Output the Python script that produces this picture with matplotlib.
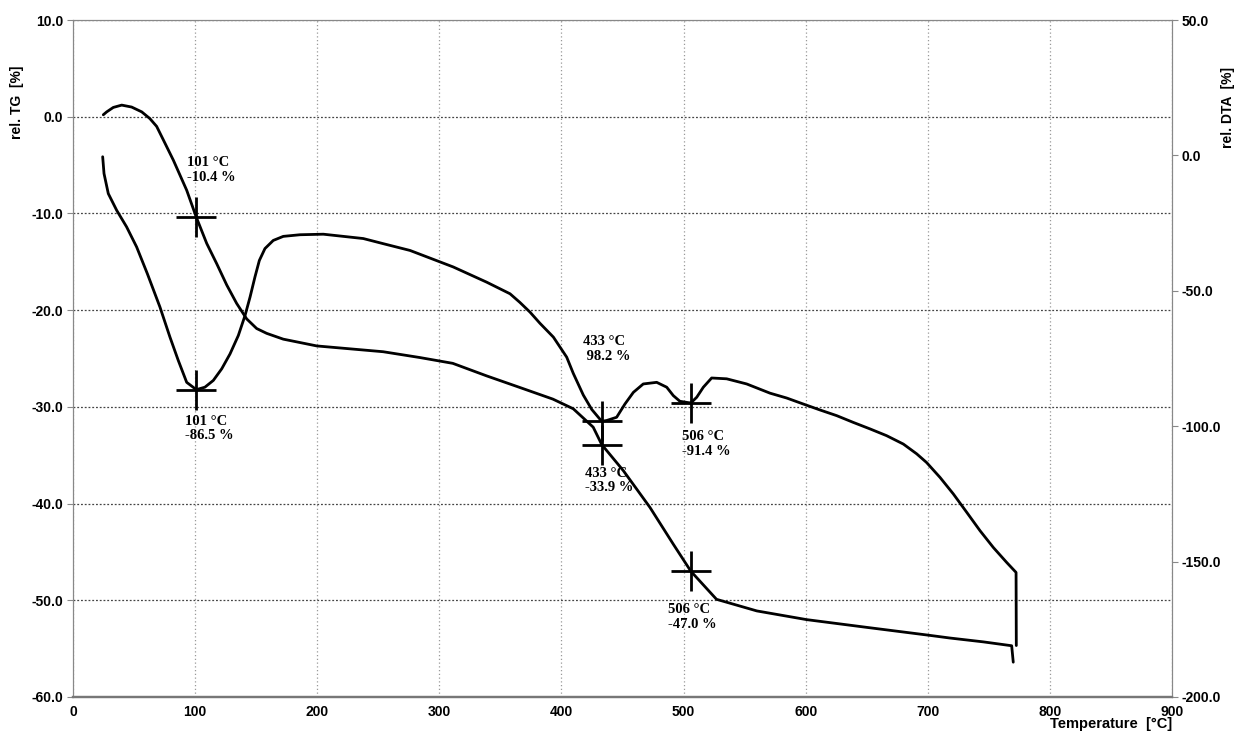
import matplotlib
matplotlib.use("Agg")

import matplotlib.pyplot as plt

# --- TG curve (left axis, rel. TG [%]) ---
tg_temp = [24.8, 27.6, 33.0, 39.9, 48.0, 56.3, 63.0, 68.5, 74.0, 82.2, 93.1,
           101.0, 109.5, 117.7, 125.9, 134.0, 142.2, 150.4, 158.6, 172.2, 199.6,
           254.0, 284.0, 311.0, 338.8, 366.0, 393.0, 409.7, 426.0, 433.0, 450.7,
           472.5, 491.6, 506.0, 527.0, 560.0, 600.8, 650.0, 700.0, 718.0, 745.5,
           768.7, 770.0]
tg = [0.2, 0.5, 0.96, 1.2, 1.0, 0.5, -0.2, -1.0, -2.4, -4.5, -7.6,
      -10.4, -13.1, -15.2, -17.4, -19.3, -20.9, -21.9, -22.4, -23.0, -23.7,
      -24.3, -24.9, -25.5, -26.8, -28.0, -29.2, -30.2, -32.1, -33.9, -36.6,
      -40.4, -44.2, -47.0, -49.9, -51.1, -52.0, -52.8, -53.6, -53.9, -54.3,
      -54.7, -56.4]

# --- DTA curve (right axis, rel. DTA [%]) ---
dta_temp = [24.3, 25.4, 28.9, 35.8, 43.9, 52.1, 60.9, 71.2, 79.4, 86.2, 93.1,
            101.0, 108.0, 114.9, 121.8, 128.6, 135.4, 140.9, 145.0, 149.0, 152.6,
            157.2, 164.0, 172.2, 185.9, 205.0, 237.7, 254.1, 276.0, 311.4, 338.7,
            357.9, 366.0, 374.3, 382.4, 393.4, 404.3, 409.7, 417.9, 424.8, 430.2,
            433.0, 437.0, 445.2, 452.0, 458.9, 467.0, 478.0, 486.2, 491.6, 497.0,
            503.9, 506.0, 510.8, 516.2, 523.0, 535.3, 551.7, 570.8, 584.5, 598.0,
            611.7, 625.4, 639.0, 652.7, 666.3, 680.0, 690.9, 699.0, 710.0, 720.9,
            731.9, 742.8, 753.7, 764.6, 772.3, 772.5]
dta = [-0.5, -6.7, -14.1, -20.3, -26.4, -33.8, -43.7, -56.0, -67.1, -75.7, -83.8,
       -86.5, -85.6, -83.1, -78.8, -73.3, -66.5, -59.1, -52.3, -44.9, -38.8,
       -34.4, -31.4, -29.9, -29.3, -29.1, -30.7, -32.6, -35.1, -41.2, -46.8,
       -51.1, -54.3, -57.9, -62.0, -67.1, -74.5, -80.5, -88.5, -93.8, -96.7,
       -98.2, -97.9, -96.7, -91.8, -87.5, -84.4, -83.8, -85.6, -88.7, -90.8,
       -91.3, -91.4, -89.3, -85.6, -82.2, -82.5, -84.4, -87.8, -89.6, -91.8,
       -94.0, -96.1, -98.6, -101.0, -103.5, -106.6, -110.2, -113.4, -118.9, -125.0,
       -131.8, -138.6, -144.8, -150.3, -154.0, -181.0]

# evaluated points: (temperature, value, text label)
tg_events = [(101, -10.4, "101 °C\n-10.4 %"),
             (433, -33.9, "433 °C\n-33.9 %"),
             (506, -47.0, "506 °C\n-47.0 %")]
dta_events = [(101, -86.5, "101 °C\n-86.5 %"),
              (433, -98.2, "433 °C\n 98.2 %"),
              (506, -91.4, "506 °C\n-91.4 %")]

tg_ticks = [10, 0, -10, -20, -30, -40, -50, -60]
dta_ticks = [50, 0, -50, -100, -150, -200]
temp_ticks = [0, 100, 200, 300, 400, 500, 600, 700, 800, 900]

# label offsets in points, relative to each marked point
tg_offsets = [(-7, 34), (-12, -26), (-16.5, -33)]
dta_offsets = [(-8, -28), (-13.5, 52), (-6.5, -29.5)]

W, H = 1243, 735
fig = plt.figure(figsize=(W / 100, H / 100), dpi=100)
fig.patch.set_facecolor("white")

left, right, top, bottom = 73, 1172, 20, 697
ax = fig.add_axes([left / W, 1 - bottom / H, (right - left) / W, (bottom - top) / H])
ax2 = ax.twinx()

tick_font = dict(family="Liberation Sans", weight="bold", size=10)
ann_font = dict(family="Liberation Serif", weight="bold", size=10.5)

ax.set_xlim(0, 900)
ax.set_ylim(-60, 10)
ax2.set_ylim(-200, 50)

ax.set_xticks(temp_ticks)
ax.set_yticks(tg_ticks)
ax2.set_yticks(dta_ticks)
ax.set_xticklabels([str(t) for t in temp_ticks], fontdict=tick_font)
ax.set_yticklabels([f"{v:.1f}" for v in tg_ticks], fontdict=tick_font)
ax2.set_yticklabels([f"{v:.1f}" for v in dta_ticks], fontdict=tick_font)

ax.tick_params(axis="x", length=0, pad=6)
ax.tick_params(axis="y", length=4, width=0.8, color="#888888", pad=3)
ax2.tick_params(axis="y", length=4, width=0.8, color="#888888", pad=3)

# dotted grid
ax.grid(axis="y", color="#444444", linestyle=(0, (1.5, 1.5)), linewidth=0.9)
ax.grid(axis="x", color="#999999", linestyle=(0, (1, 2)), linewidth=0.9)
ax.set_axisbelow(True)

for a in (ax, ax2):
    for side in ("left", "right", "top"):
        a.spines[side].set_color("#888888")
        a.spines[side].set_linewidth(0.8)
    a.spines["bottom"].set_color("#777777")
    a.spines["bottom"].set_linewidth(1.6)

ax.plot(tg_temp, tg, color="black", linewidth=2.0,
        solid_joinstyle="round", solid_capstyle="round")
ax2.plot(dta_temp, dta, color="black", linewidth=2.0,
         solid_joinstyle="round", solid_capstyle="round")

for (t, v, txt), off in zip(tg_events, tg_offsets):
    ax.plot(t, v, marker="+", markersize=29, markeredgewidth=2, color="black")
    ax.annotate(txt, xy=(t, v), xytext=off, textcoords="offset points",
                ha="left", va="center", linespacing=1.15, **ann_font)

for (t, v, txt), off in zip(dta_events, dta_offsets):
    ax2.plot(t, v, marker="+", markersize=29, markeredgewidth=2, color="black")
    ax2.annotate(txt, xy=(t, v), xytext=off, textcoords="offset points",
                 ha="left", va="center", linespacing=1.15, **ann_font)

# axis titles
fig.text(17 / W, 1 - 102 / H, "rel. TG  [%]", rotation=90, ha="center", va="center",
         **tick_font)
fig.text(1228 / W, 1 - 107 / H, "rel. DTA  [%]", rotation=90, ha="center", va="center",
         **tick_font)
fig.text(1172 / W, 1 - 724 / H, "Temperature  [°C]", ha="right", va="center",
         family="Liberation Sans", weight="bold", size=10.5)

fig.savefig("out.png", dpi=100)
